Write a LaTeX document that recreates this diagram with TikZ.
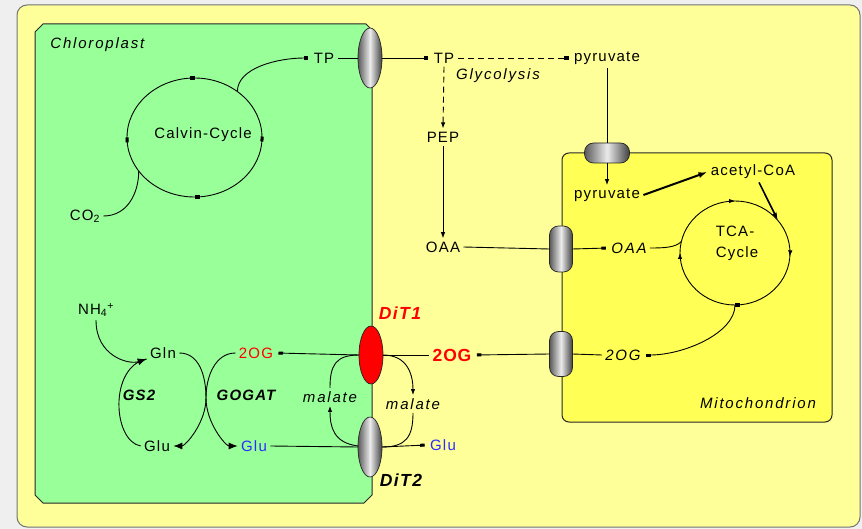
\documentclass[tikz,border=0pt]{standalone}
\usepackage{fontspec}
\setmainfont{Liberation Sans}[LetterSpace=8]
\usetikzlibrary{arrows.meta,shapes.geometric,decorations.markings}
\definecolor{bgout}{HTML}{EFEFEF}
\definecolor{cellY}{HTML}{FFFF99}
\definecolor{chlG}{HTML}{99FF99}
\definecolor{mitY}{HTML}{FFFF55}
\definecolor{myred}{HTML}{FF0000}
\definecolor{myblue}{HTML}{2B2BFF}
\tikzset{
  lab/.style={font=\fontsize{15}{17}\selectfont, inner sep=3pt},
  itl/.style={lab, font=\fontsize{15}{17}\selectfont\itshape\addfontfeature{LetterSpace=12}},
  bil/.style={lab, font=\fontsize{15}{17}\selectfont\bfseries\itshape},
  bigl/.style={inner sep=3pt, font=\fontsize{17.5}{20}\selectfont\bfseries\itshape\addfontfeature{LetterSpace=8}},
  ln/.style={line width=0.9pt},
  mk/.style={ln, -{Square[length=4.5pt,width=3pt]}, shorten >=2pt},
  tri/.style={ln, -{Latex[length=6pt,width=4.5pt]}},
  bigtri/.style={ln, -{Latex[length=9pt,width=7pt]}},
  thk/.style={line width=2pt, -{Latex[length=9pt,width=6pt]}},
  dsh/.style={dash pattern=on 6pt off 4pt},
  tshade/.style={left color=black!65, right color=black!75, middle color=gray!15, draw=black!85, line width=0.7pt},
  trell/.style={tshade, ellipse, minimum width=24, minimum height=60, inner sep=0, outer sep=0},
  pillv/.style={tshade, rectangle, rounded corners=9pt, minimum width=23, minimum height=46, inner sep=0, outer sep=0},
  pillh/.style={tshade, rectangle, rounded corners=9pt, minimum width=45, minimum height=20, inner sep=0, outer sep=0},
  ring/.style={ellipse, inner sep=0, outer sep=0},
  calvmk/.style={ln, postaction={decorate}, decoration={markings,
     mark=at position 0.01 with {\arrow{Square[length=5pt,width=3pt]}},
     mark=at position 0.25 with {\arrow{Square[length=5pt,width=3pt]}},
     mark=at position 0.5 with {\arrow{Square[length=5pt,width=3pt]}},
     mark=at position 0.75 with {\arrow{Square[length=5pt,width=3pt]}}}},
  tcamk/.style={ln, postaction={decorate}, decoration={markings,
     mark=at position 0.01 with {\arrow{Latex[length=6pt,width=4.5pt]}},
     mark=at position 0.25 with {\arrow{Square[length=5pt,width=3pt]}},
     mark=at position 0.5 with {\arrow{Latex[length=6pt,width=4.5pt]}},
     mark=at position 0.75 with {\arrow{Latex[length=6pt,width=4.5pt]}}}},
}
\begin{document}
\begin{tikzpicture}[x=1pt,y=-1pt, line width=0.9pt]
\fill[bgout] (0,0) rectangle (862,529);
\useasboundingbox (0,0) rectangle (862,529);
\filldraw[fill=cellY, draw=black!55, line width=1pt, rounded corners=10pt] (17,5) rectangle (860,527);
% chloroplast
\filldraw[fill=chlG, draw=black!85, line width=1pt] (43,24) -- (366,24) -- (372,30) -- (372,495) -- (364,503) -- (43,503) -- (35,495) -- (35,32) -- cycle;
% mitochondrion
\filldraw[fill=mitY, draw=black!85, line width=1pt, rounded corners=7pt] (562,153) rectangle (832,422);

% transporters
\node[trell] (tpt) at (370,58) {};
\node[trell, left color=myred, right color=myred, middle color=myred, minimum height=58] (dit1) at (371,355) {};
\node[trell] (dit2) at (370,447) {};
\node[pillh] (pyrt) at (607,153) {};
\node[pillv] (oaat) at (561,249) {};
\node[pillv, minimum height=45] (ogt) at (561,354) {};

% cycles
\node[ring, minimum width=135, minimum height=119] (calv) at (194.5,137.5) {};
\draw[calvmk] (194.5,137.5) ellipse [x radius=67.5, y radius=59.5];
\node[ring, minimum width=110, minimum height=104] (tca) at (735,253) {};
\draw[tcamk] (735,253) ellipse [x radius=55, y radius=52];

% labels
\node[itl, anchor=west] (chl) at (47,45) {Chloroplast};
\node[lab] (calvt) at (203,135) {Calvin-Cycle};
\node[lab] (co2) at (85,216) {CO\textsubscript{2}};
\node[lab] (tpin) at (324,58) {TP};
\node[lab] (tpout) at (444,58) {TP};
\node[lab] (pyr1) at (607,58) {pyruvate};
\node[itl] (glyc) at (498,76) {Glycolysis};
\node[lab] (pep) at (443,137) {PEP};
\node[lab] (oaa1) at (443,247) {OAA};
\node[lab] (pyr2) at (607,195) {pyruvate};
\node[lab] (acoa) at (753,172) {acetyl-CoA};
\node[itl] (oaa2) at (629,248) {OAA};
\node[lab, align=left, font=\fontsize{15}{21}\selectfont] (tcat) at (737,243) {TCA-\\Cycle};
\node[itl] (ogm) at (623,355) {2OG};
\node[itl] (mito) at (758,403) {Mitochondrion};
\node[inner sep=3pt, text=myred, font=\fontsize{17.5}{20}\selectfont\bfseries\addfontfeature{LetterSpace=5}] (og2) at (452,355) {2OG};
\node[bigl, text=myred] (dit1t) at (400,313) {DiT1};
\node[bigl] (dit2t) at (401,480) {DiT2};
\node[itl] (mal1) at (330,397) {malate};
\node[itl] (mal2) at (413,404) {malate};
\node[lab, text=myblue] (glub2) at (443,445) {Glu};
\node[lab] (nh4) at (96,310) {NH\textsubscript{4}\textsuperscript{+}};
\node[lab] (gln) at (163,353) {Gln};
\node[lab, text=myred] (ogs) at (256,353) {2OG};
\node[bil] (gs2) at (139,395) {GS2};
\node[bil] (gogat) at (246,395) {GOGAT};
\node[lab] (glu) at (157,446) {Glu};
\node[lab, text=myblue] (glub) at (254,446) {Glu};
\coordinate (gx) at (206,398);

% Calvin cycle
\draw[mk] (calv.47) .. controls +(0,-24) and +(-32,0) .. (tpin.west);
\draw[ln] (co2.east) .. controls +(24,0) and +(0,22) .. (calv.211);
\draw[ln] (tpin.east) -- (tpt.west);
\draw[mk] (tpt.east) -- (tpout.west);
\draw[mk, dsh] (tpout.east) -- (pyr1.west);
\draw[tri, dsh] (tpout.south) -- (pep.north);
\draw[tri] (pep.south) -- (oaa1.north);
\draw[ln] (pyr1.south) -- (pyrt.north);
\draw[tri] (pyrt.south) -- (pyr2.north);
\draw[thk] (pyr2.east) -- (acoa.west);
\draw[line width=1.6pt, -{Latex[length=8pt,width=5pt]}] ([xshift=6pt]acoa.south) -- (tca.37);
\draw[ln] (oaa1.east) -- (oaat.west);
\draw[mk] (oaat.east) -- (oaa2.west);
\draw[ln] (oaa2.east) .. controls +(14,0) and +(-6,6) .. (tca.168);
\draw[mk] (ogt.west) -- (og2.east);
\draw[ln] (ogt.east) -- (ogm.west);
\draw[mk] (tca.south) .. controls +(0,28) and +(40,0) .. (ogm.east);
% DiT1 / DiT2
\draw[mk] (dit1.west) -- (ogs.east);
\draw[ln] (dit1.east) -- (og2.west);
\draw[ln] (glub.east) -- (dit2.west);
\draw[mk] (dit2.east) -- (glub2.west);
\draw[tri] (dit2.175) .. controls +(-25,-3) and +(0,20) .. (mal1.south);
\draw[ln] (mal1.north) .. controls +(0,-22) and +(-24,0) .. (dit1.west);
\draw[tri] (dit1.east) .. controls +(26,0) and +(0,-18) .. (mal2.north);
\draw[ln] (mal2.south) .. controls +(0,24) and +(24,0) .. (dit2.east);
% GS2 / GOGAT
\draw[bigtri] (nh4.south) .. controls +(0,36) and +(-18,6) .. (gln.200);
\draw[ln] (glu.west) .. controls +(-28,-5) and +(-38,8) .. (gln.200);
\draw[bigtri] (gln.east) .. controls +(20,0) and +(0,-22) .. (gx) .. controls +(0,25) and +(12,0) .. (glu.east);
\draw[bigtri] (ogs.west) .. controls +(-20,0) and +(0,-22) .. (gx) .. controls +(0,25) and +(-12,0) .. (glub.west);
\end{tikzpicture}
\end{document}
